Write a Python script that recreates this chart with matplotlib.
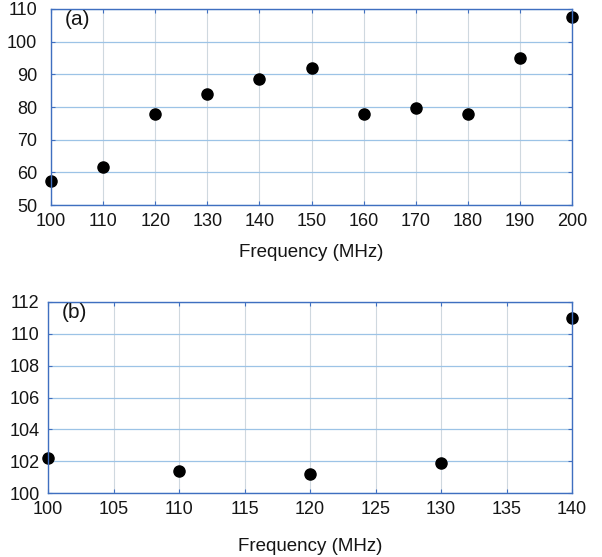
import matplotlib
matplotlib.use("Agg")
import matplotlib.pyplot as plt

plt.rcParams['font.family'] = ['Liberation Sans', 'DejaVu Sans']

# panel (a)
freq_a = [100, 110, 120, 130, 140, 150, 160, 170, 180, 190, 200]
vals_a = [57.5, 61.5, 78, 84, 88.5, 92, 78, 79.6, 78, 95, 107.5]
yticks_a = [50, 60, 70, 80, 90, 100, 110]

# panel (b)
freq_b = [100, 110, 120, 130, 140]
vals_b = [102.2, 101.4, 101.2, 101.9, 111.0]
xticks_b = [100, 105, 110, 115, 120, 125, 130, 135, 140]
yticks_b = [100, 102, 104, 106, 108, 110, 112]

SPINE = '#3f6fc0'

fig = plt.figure(figsize=(6.02, 5.57), dpi=100)
ax1 = fig.add_axes([51 / 602, 1 - 205 / 557, 521 / 602, 196 / 557])
ax2 = fig.add_axes([48 / 602, 1 - 493 / 557, 524 / 602, 191 / 557])


def style(ax, xticks, yticks, label, ypad, xlabelpad):
    ax.set_xticks(xticks)
    ax.set_yticks(yticks)
    ax.set_xlim(xticks[0], xticks[-1])
    ax.set_ylim(yticks[0], yticks[-1])
    ax.yaxis.grid(True, color='#9cc3e6', linewidth=0.9)
    ax.xaxis.grid(True, color='#cfd8df', linewidth=0.8)
    ax.set_axisbelow(True)
    for s in ax.spines.values():
        s.set_color(SPINE)
        s.set_linewidth(1.0)
    ax.tick_params(direction='in', length=3, color=SPINE, top=True, right=True,
                   labelsize=13, labelcolor='#151515')
    ax.tick_params(axis='x', pad=6)
    ax.tick_params(axis='y', pad=ypad)
    ax.set_xlabel("Frequency (MHz)", fontsize=13.5, labelpad=xlabelpad,
                  color='#151515')
    ax.text(0.027, 0.995, label, transform=ax.transAxes, fontsize=15,
            ha='left', va='top', color='#151515')


ax1.plot(freq_a, vals_a, 'o', color='black', markersize=8, clip_on=False)
style(ax1, freq_a, yticks_a, "(a)", 10, 10)

ax2.plot(freq_b, vals_b, 'o', color='black', markersize=8, clip_on=False)
style(ax2, xticks_b, yticks_b, "(b)", 6, 14)

fig.savefig("out.png", dpi=100)
